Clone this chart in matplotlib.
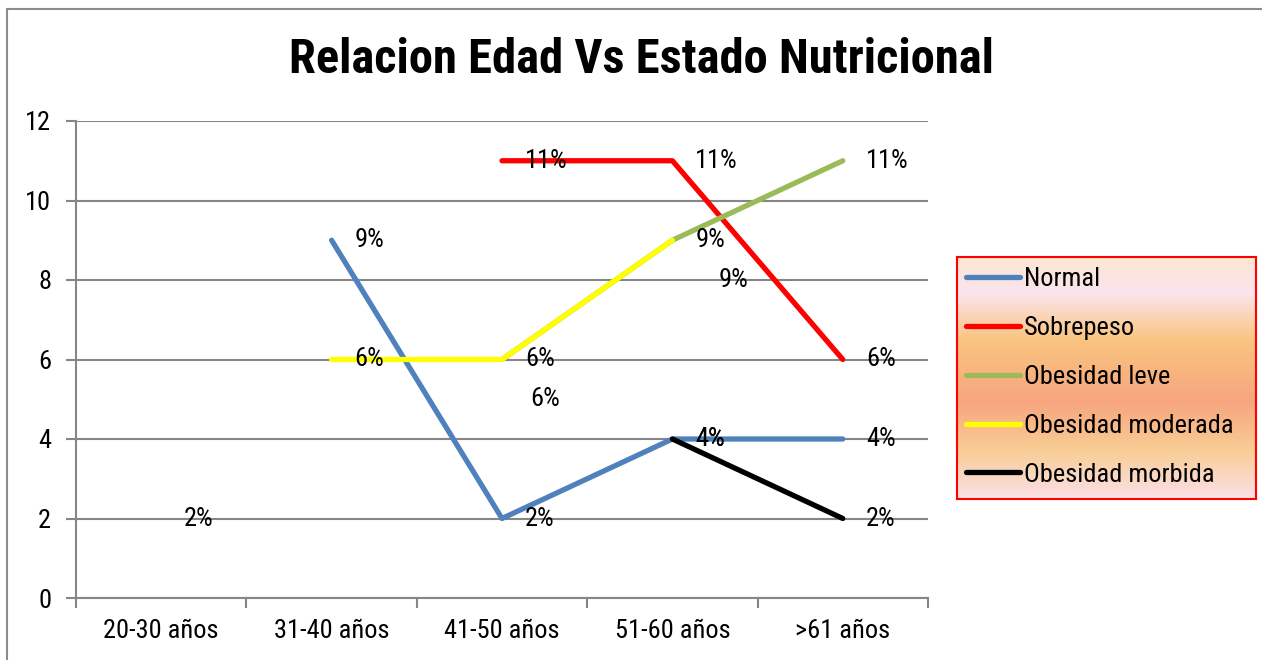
import numpy as np
import matplotlib.pyplot as plt
from matplotlib import font_manager as fm
from matplotlib.colors import LinearSegmentedColormap
from matplotlib.patches import Rectangle

categories = ['20-30 años', '31-40 años', '41-50 años', '51-60 años', '>61 años']
normal = [np.nan, 9, 2, 4, 4]
sobrepeso = [2, np.nan, 11, 11, 6]
ob_leve = [np.nan, np.nan, 6, 9, 11]
ob_moderada = [np.nan, 6, 6, 9, np.nan]
ob_morbida = [np.nan, np.nan, np.nan, 4, 2]

series_names = ['Normal', 'Sobrepeso', 'Obesidad leve', 'Obesidad moderada', 'Obesidad morbida']
series_vals = [normal, sobrepeso, ob_leve, ob_moderada, ob_morbida]
colors = ['#4F81BD', '#FF0000', '#9BBB59', '#FFFF00', '#000000']

# labels that were dragged off their points in the original sheet
moved = {(2, 2): (28, -40), (2, 3): (46, -40)}

# pick a narrow font like Arial Narrow if one is there
names = {f.name for f in fm.fontManager.ttflist}
narrow = None
for cand in ['Liberation Sans Narrow', 'Arial Narrow', 'Roboto Condensed', 'Open Sans Condensed',
             'Noto Sans Condensed']:
    if cand in names:
        narrow = cand
        break
if narrow:
    plt.rcParams['font.family'] = [narrow, 'DejaVu Sans']
    fs, fs_title = 19, 35
else:
    plt.rcParams['font.family'] = ['Liberation Sans', 'DejaVu Sans']
    fs, fs_title = 16, 28

W, H = 1262, 660
fig = plt.figure(figsize=(W / 100, H / 100), dpi=100)

# outer chart border
fig.patches.append(Rectangle((7 / W, -0.05), 1.2, 1 - 9 / H + 0.05, transform=fig.transFigure,
                             fill=False, edgecolor='#8C8C8C', linewidth=1.5))

ax = fig.add_axes([76 / W, 1 - 598 / H, (928 - 76) / W, (598 - 121) / H])
x = np.arange(len(categories))
for i, (name, vals, c) in enumerate(zip(series_names, series_vals, colors)):
    ax.plot(x, vals, color=c, lw=3.8, label=name, solid_capstyle='round', solid_joinstyle='round')
    for j, v in enumerate(vals):
        if np.isnan(v):
            continue
        off = moved.get((i, j), (23, 0))
        ax.annotate(f'{int(v)}%', (j, v), xytext=off, textcoords='offset pixels',
                    ha='left', va='center', fontsize=fs, color='black')

ax.set_xlim(-0.5, len(categories) - 0.5)
ax.set_ylim(0, 12)
ax.set_yticks(range(0, 13, 2))
ax.set_xticks(x)
ax.set_xticklabels(categories)
ax.set_xticks(np.arange(-0.5, len(categories)), minor=True)
ax.tick_params(axis='x', which='major', length=0, pad=15, labelsize=fs)
ax.tick_params(axis='x', which='minor', length=7, color='#868686', width=1.5)
ax.tick_params(axis='y', length=7, color='#868686', width=1.5, pad=11, labelsize=fs)
ax.grid(axis='y', color='#868686', lw=1.5)
ax.set_axisbelow(True)
for s in ['top', 'right']:
    ax.spines[s].set_visible(False)
for s in ['left', 'bottom']:
    ax.spines[s].set_color('#868686')
    ax.spines[s].set_linewidth(1.5)

fig.text(641 / W, 1 - 60 / H, 'Relacion Edad Vs Estado Nutricional', ha='center', va='center',
         fontsize=fs_title, fontweight='bold')

# legend box with gradient fill
lax = fig.add_axes([957 / W, 1 - 499 / H, (1256 - 957) / W, (499 - 257) / H])
cmap = LinearSegmentedColormap.from_list('sunset', [
    (0.0, '#FBE6D2'), (0.15, '#FCE4EC'), (0.35, '#F9C47E'), (0.6, '#F7A57E'),
    (0.8, '#F9CD95'), (1.0, '#FBE0E6')])
lax.imshow(np.linspace(0, 1, 200).reshape(-1, 1), aspect='auto', cmap=cmap, extent=[0, 1, 0, 1])
lax.set_xticks([])
lax.set_yticks([])
for s in lax.spines.values():
    s.set_color('#FF0000')
    s.set_linewidth(1.5)

handles, labels = ax.get_legend_handles_labels()
leg = fig.legend(handles, labels, loc='center left', bbox_to_anchor=(966 / W, 1 - 377 / H),
                 frameon=False, fontsize=fs, handlelength=2.05, handletextpad=0.15,
                 labelspacing=0.94, borderaxespad=0, borderpad=0)
leg.set_zorder(10)

fig.savefig('out.png', dpi=100)
